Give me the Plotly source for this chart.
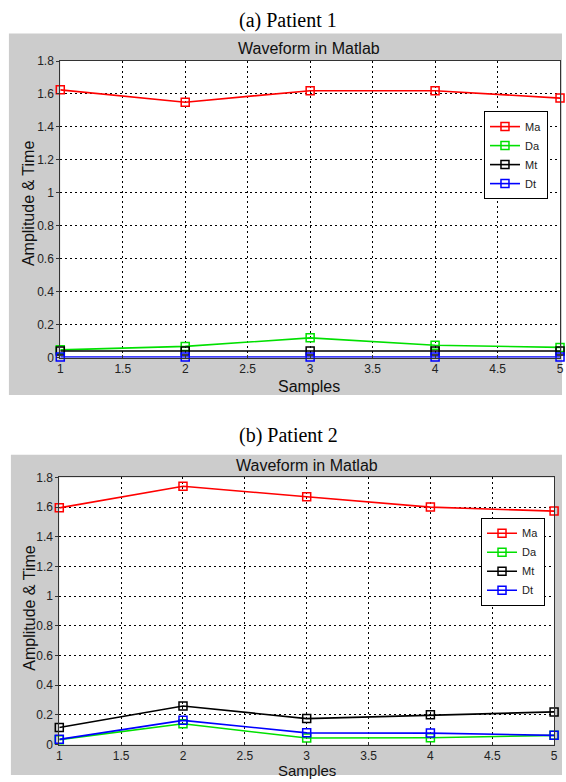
import plotly.graph_objects as go

samples = [1, 2, 3, 4, 5]
series_names = ["Ma", "Da", "Mt", "Dt"]
series_colors = ["#ff0000", "#00e000", "#000000", "#0000ff"]

p1_ma = [1.625, 1.55, 1.62, 1.62, 1.575]
p1_da = [0.047, 0.068, 0.12, 0.075, 0.062]
p1_mt = [0.04, 0.04, 0.04, 0.04, 0.04]
p1_dt = [0.003, 0.003, 0.003, 0.003, 0.003]

p2_ma = [1.595, 1.74, 1.67, 1.60, 1.573]
p2_da = [0.033, 0.14, 0.044, 0.046, 0.062]
p2_mt = [0.115, 0.26, 0.175, 0.20, 0.22]
p2_dt = [0.035, 0.163, 0.079, 0.077, 0.062]

x_ticks = [1, 1.5, 2, 2.5, 3, 3.5, 4, 4.5, 5]
y_ticks = [0, 0.2, 0.4, 0.6, 0.8, 1, 1.2, 1.4, 1.6, 1.8]

W, H = 566, 782
fig = go.Figure()

def px(x):
    return x / W

def py(y):
    return 1 - y / H

for i, (name, col) in enumerate(zip(series_names, series_colors)):
    vals1 = [p1_ma, p1_da, p1_mt, p1_dt][i]
    vals2 = [p2_ma, p2_da, p2_mt, p2_dt][i]
    fig.add_trace(go.Scatter(x=samples, y=vals1, name=name, mode="lines+markers",
                             line=dict(color=col, width=1.6),
                             marker=dict(symbol="square-open", size=8, color=col, line=dict(width=1.5)),
                             cliponaxis=False, xaxis="x", yaxis="y", legend="legend"))
    fig.add_trace(go.Scatter(x=samples, y=vals2, name=name, mode="lines+markers",
                             line=dict(color=col, width=1.6),
                             marker=dict(symbol="square-open", size=8, color=col, line=dict(width=1.5)),
                             cliponaxis=False, xaxis="x2", yaxis="y2", legend="legend2"))

axis_font = dict(family="Liberation Sans, Arial", size=12, color="#222")

def xaxis_cfg(domain, anchor):
    return dict(domain=domain, anchor=anchor, range=[1, 5], tickvals=x_ticks,
                ticktext=[("%g" % v) for v in x_ticks],
                showgrid=True, gridcolor="#000", griddash="2px,3px", gridwidth=1,
                showline=True, linecolor="#333", linewidth=1, mirror=True,
                ticks="inside", ticklen=3, tickcolor="#333",
                tickfont=axis_font, zeroline=False, fixedrange=True)

def yaxis_cfg(domain, anchor):
    return dict(domain=domain, anchor=anchor, range=[0, 1.8], tickvals=y_ticks,
                ticktext=[("%g" % v) for v in y_ticks],
                showgrid=True, gridcolor="#000", griddash="2px,3px", gridwidth=1,
                showline=True, linecolor="#333", linewidth=1, mirror=True,
                ticks="outside", ticklen=3, tickcolor="#333",
                tickfont=axis_font, zeroline=False, fixedrange=True)

legend_common = dict(bgcolor="white", bordercolor="#000", borderwidth=1,
                     font=dict(family="Liberation Sans, Arial", size=11, color="#222"),
                     xanchor="left", yanchor="top", tracegroupgap=0, itemwidth=30)

top_area = dict(x0=58, x1=564, y0=55, y1=357)
bot_area = dict(x0=57, x1=558, y0=479, y1=751)

fig.update_layout(
    width=W, height=H,
    margin=dict(l=0, r=0, t=0, b=0),
    paper_bgcolor="white", plot_bgcolor="white",
    xaxis=xaxis_cfg([px(top_area["x0"]), px(top_area["x1"])], "y"),
    yaxis=yaxis_cfg([py(top_area["y1"]), py(top_area["y0"])], "x"),
    xaxis2=xaxis_cfg([px(bot_area["x0"]), px(bot_area["x1"])], "y2"),
    yaxis2=yaxis_cfg([py(bot_area["y1"]), py(bot_area["y0"])], "x2"),
    legend=dict(x=px(487), y=py(106), **legend_common),
    legend2=dict(x=px(484), y=py(520), **legend_common),
    shapes=[
        dict(type="rect", xref="paper", yref="paper", x0=px(6), x1=1, y0=py(395), y1=py(27),
             fillcolor="#cccccc", line=dict(width=0), layer="below"),
        dict(type="rect", xref="paper", yref="paper", x0=px(8), x1=1, y0=0, y1=py(456),
             fillcolor="#cccccc", line=dict(width=0), layer="below"),
        dict(type="rect", xref="paper", yref="paper", x0=px(top_area["x0"]), x1=px(top_area["x1"]),
             y0=py(top_area["y1"]), y1=py(top_area["y0"]),
             fillcolor="white", line=dict(width=0), layer="below"),
        dict(type="rect", xref="paper", yref="paper", x0=px(bot_area["x0"]), x1=px(bot_area["x1"]),
             y0=py(bot_area["y1"]), y1=py(bot_area["y0"]),
             fillcolor="white", line=dict(width=0), layer="below"),
    ],
    showlegend=True,
)

serif = dict(family="Liberation Serif, Times New Roman", size=20, color="#000")
sans_t = dict(family="Liberation Sans, Arial", size=16, color="#111")
sans_l = dict(family="Liberation Sans, Arial", size=16, color="#111")
sans_l2 = dict(family="Liberation Sans, Arial", size=15, color="#111")
sans_y = dict(family="Liberation Sans, Arial", size=16, color="#111")

annos = [
    dict(text="(a) Patient 1", x=px(289), y=py(14), font=serif),
    dict(text="(b) Patient 2", x=px(289), y=py(436), font=serif),
    dict(text="Waveform in Matlab", x=px(310), y=py(42), font=sans_t),
    dict(text="Waveform in Matlab", x=px(308), y=py(467), font=sans_t),
    dict(text="Samples", x=px(310), y=py(386), font=sans_l),
    dict(text="Samples", x=px(308), y=py(777), font=sans_l2),
    dict(text="Amplitude & Time", x=px(26), y=py(200), font=sans_y, textangle=-90),
    dict(text="Amplitude & Time", x=px(26), y=py(612), font=sans_y, textangle=-90),
]
for a in annos:
    fig.add_annotation(xref="paper", yref="paper", showarrow=False,
                       xanchor="center", yanchor="middle", **a)

fig.write_html("out.html")
